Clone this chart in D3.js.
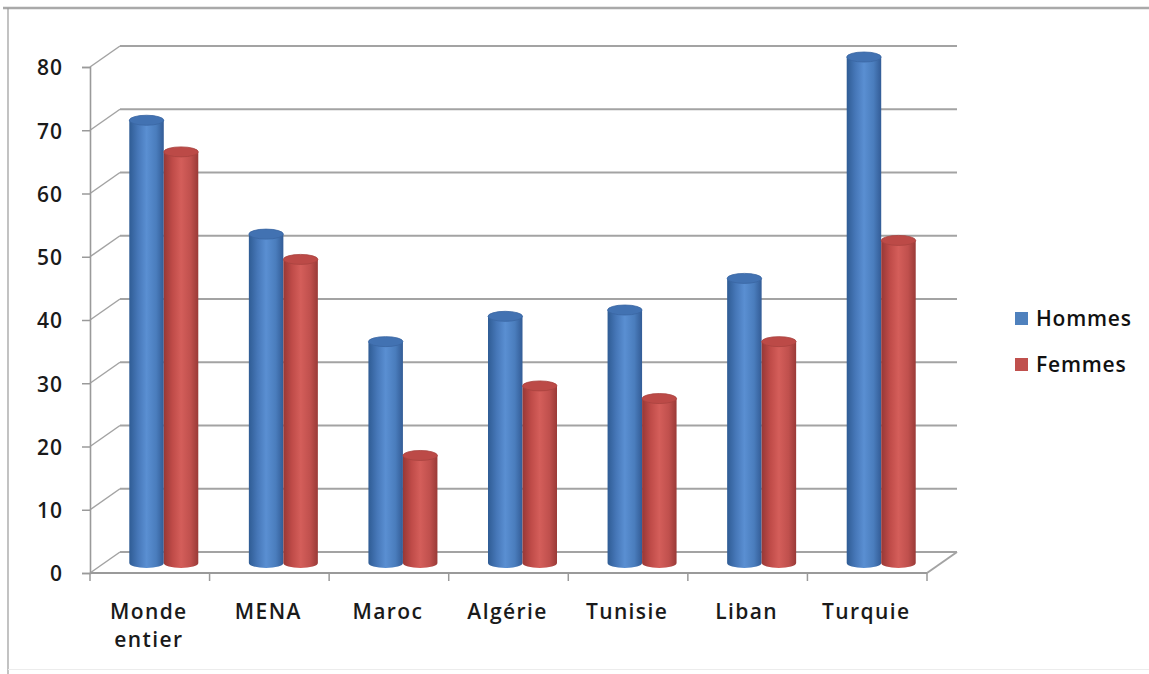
<!DOCTYPE html>
<html>
<head>
<meta charset="utf-8">
<script src="https://cdn.jsdelivr.net/npm/d3@7"></script>
<style>
  html, body { margin: 0; padding: 0; background: #fff; }
  svg { display: block; }
</style>
</head>
<body>
<svg id="chart" width="1149" height="674"></svg>
<script>
// Data
const categories = [["Monde", "entier"], ["MENA"], ["Maroc"], ["Algérie"], ["Tunisie"], ["Liban"], ["Turquie"]];
const seriesNames = ["Hommes", "Femmes"];
const hommes = [70, 52, 35, 39, 40, 45, 80];
const femmes = [65, 48, 17, 28, 26, 35, 51];
const yTicks = [0, 10, 20, 30, 40, 50, 60, 70, 80];

const seriesColors = {
  Hommes: { stops: ["#2f5c94", "#4677b8", "#5a8fd2", "#4a7dbd", "#335c96"], cap: "#4272b2", edge: "#3a66a2" },
  Femmes: { stops: ["#973836", "#bf4b48", "#d45e5a", "#c0504d", "#9a3a37"], cap: "#bc4a47", edge: "#a8423f" }
};

const svg = d3.select("#chart");
const W = 1149, H = 674;
const fontFamily = "'Open Sans', 'DejaVu Sans', sans-serif";

// Chart frame
svg.append("line").attr("x1", 3).attr("x2", W).attr("y1", 8).attr("y2", 8)
  .attr("stroke", "#a9a9a9").attr("stroke-width", 2.5);
svg.append("line").attr("x1", 8).attr("x2", 8).attr("y1", 8).attr("y2", H)
  .attr("stroke", "#9a9a9a").attr("stroke-width", 1.2);
svg.append("line").attr("x1", 8).attr("x2", W).attr("y1", 669.5).attr("y2", 669.5)
  .attr("stroke", "#ececec").attr("stroke-width", 1);

// Scales
const plotLeft = 90, plotRight = 927;
const depthX = 30, depthY = -21;       // back wall offset
const barDX = 14, barDY = -10;         // bars stand half way into the depth
const y = d3.scaleLinear().domain([0, 80]).range([573, 67]);
const x0 = d3.scaleBand().domain(d3.range(categories.length)).range([plotLeft, plotRight]);
const x1 = d3.scaleBand().domain(seriesNames).range([-34.5, 34.5]);

const gridColor = "#a3a3a3";

// Back wall gridlines and side-wall diagonals
const grid = svg.append("g");
yTicks.forEach(t => {
  grid.append("line")
    .attr("x1", plotLeft + depthX).attr("x2", plotRight + depthX)
    .attr("y1", y(t) + depthY).attr("y2", y(t) + depthY)
    .attr("stroke", gridColor).attr("stroke-width", 2.2);
  grid.append("line")
    .attr("x1", plotLeft).attr("x2", plotLeft + depthX)
    .attr("y1", y(t)).attr("y2", y(t) + depthY)
    .attr("stroke", gridColor).attr("stroke-width", 1.5);
});
// Floor right edge
grid.append("line")
  .attr("x1", plotRight).attr("x2", plotRight + depthX)
  .attr("y1", y(0)).attr("y2", y(0) + depthY)
  .attr("stroke", gridColor).attr("stroke-width", 2);

// Value axis
const yAxis = svg.append("g").attr("transform", `translate(${plotLeft},0)`)
  .call(d3.axisLeft(y).tickValues(yTicks).tickSize(8).tickPadding(19).tickFormat(d3.format("d")));
yAxis.select(".domain").attr("stroke", "#9a9a9a").attr("stroke-width", 1.6);
yAxis.selectAll(".tick line").attr("stroke", "#9a9a9a").attr("stroke-width", 1.5);
yAxis.selectAll(".tick text")
  .attr("font-family", fontFamily).attr("font-size", 21).attr("font-weight", 600)
  .attr("fill", "#1a1a1a").attr("dy", "0.38em").attr("letter-spacing", 1);

// Category axis (front floor edge)
const xAxis = svg.append("g").attr("transform", `translate(0,${y(0)})`);
xAxis.append("line").attr("x1", plotLeft).attr("x2", plotRight).attr("y1", 0).attr("y2", 0)
  .attr("stroke", "#9a9a9a").attr("stroke-width", 2);
const tickXs = d3.range(categories.length).map(i => x0(i)).concat([plotRight]);
xAxis.selectAll("line.ct").data(tickXs).join("line").attr("class", "ct")
  .attr("x1", d => d).attr("x2", d => d).attr("y1", 0).attr("y2", 8)
  .attr("stroke", "#9a9a9a").attr("stroke-width", 1.5);

const labels = svg.append("g")
  .attr("font-family", fontFamily).attr("font-size", 21).attr("font-weight", 600)
  .attr("fill", "#1a1a1a").attr("text-anchor", "middle").attr("letter-spacing", 1.4);
categories.forEach((lines, i) => {
  const cx = x0(i) + x0.bandwidth() / 2 - 1;
  const t = labels.append("text").attr("x", cx).attr("y", 619);
  lines.forEach((ln, k) => {
    t.append("tspan").attr("x", cx).attr("dy", k === 0 ? 0 : 28).text(ln);
  });
});

// Cylinder gradients
const defs = svg.append("defs");
seriesNames.forEach(s => {
  const g = defs.append("linearGradient").attr("id", "grad-" + s)
    .attr("x1", "0%").attr("x2", "100%").attr("y1", "0%").attr("y2", "0%");
  const offs = [0, 0.25, 0.5, 0.78, 1];
  seriesColors[s].stops.forEach((c, k) => g.append("stop").attr("offset", offs[k]).attr("stop-color", c));
});

// Cylinder bars
const rows = categories.map((c, i) => ({ i, values: [
  { s: "Hommes", v: hommes[i] }, { s: "Femmes", v: femmes[i] }
]}));
const rx = x1.bandwidth() / 2, ry = 5;
const bars = svg.append("g");
rows.forEach(r => {
  r.values.forEach(d => {
    const cx = x0(r.i) + x0.bandwidth() / 2 + barDX + x1(d.s) + rx;
    const yTop = y(d.v) + barDY;
    const yBot = y(0) + barDY;
    const g = bars.append("g");
    g.append("path")
      .attr("d", `M${cx - rx},${yTop} L${cx - rx},${yBot} A${rx},${ry} 0 0 0 ${cx + rx},${yBot} L${cx + rx},${yTop} Z`)
      .attr("fill", `url(#grad-${d.s})`);
    g.append("ellipse")
      .attr("cx", cx).attr("cy", yTop).attr("rx", rx).attr("ry", ry)
      .attr("fill", seriesColors[d.s].cap)
      .attr("stroke", seriesColors[d.s].edge).attr("stroke-width", 0.8);
  });
});

// Legend
const legend = svg.append("g").attr("font-family", fontFamily).attr("font-size", 21)
  .attr("font-weight", 600).attr("fill", "#111").attr("letter-spacing", 0.8);
const legendColors = { Hommes: "#4f81bd", Femmes: "#c0504d" };
seriesNames.forEach((s, k) => {
  const ly = 312 + k * 46;
  legend.append("rect").attr("x", 1015).attr("y", ly).attr("width", 13).attr("height", 13).attr("fill", legendColors[s]);
  legend.append("text").attr("x", 1036).attr("y", ly + 14).text(s);
});
</script>
</body>
</html>
